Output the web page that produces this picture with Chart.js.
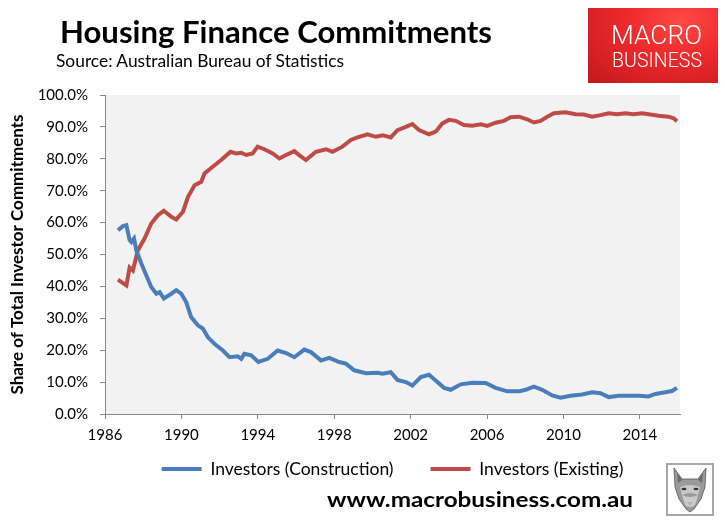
<!DOCTYPE html>
<html><head><meta charset="utf-8">
<script src="https://cdn.jsdelivr.net/npm/chart.js@4.4.1/dist/chart.umd.min.js"></script>
<style>
html,body{margin:0;padding:0;background:#fff;width:725px;height:526px;overflow:hidden;}
#wrap{position:relative;width:725px;height:526px;}
#c{position:absolute;left:0;top:0;}
.t{position:absolute;white-space:nowrap;transform-origin:0 0;margin:0;padding:0;color:#000;}
#logo{position:absolute;left:588px;top:8px;width:130px;height:75px;
 background:radial-gradient(ellipse at 72% 18%, #ff4a45 0%, #ee2a2c 40%, #d21e22 80%, #c2181c 100%);}
#wolf{position:absolute;left:666px;top:463px;width:44px;height:49px;border:2px solid #a8a8a8;background:#fff;}
</style></head><body>
<div id="wrap">
<canvas id="c" width="725" height="526"></canvas>
<div id="logo"></div>
<div class="t" id="title">Housing Finance Commitments</div>
<div class="t" id="sub">Source: Australian Bureau of Statistics</div>
<div class="t" id="macro" style="color:#fff">MACRO</div>
<div class="t" id="business" style="color:#fff">BUSINESS</div>
<div class="t" id="footer">www.macrobusiness.com.au</div>
<div id="wolf"><svg width="44" height="49" viewBox="0 0 44 49">
<path d="M6 3 L14 14 L30 14 L38 3 L37 22 L33 34 L26 44 L22 47 L18 44 L11 34 L7 22 Z" fill="#9a9a9a" stroke="#555" stroke-width="0.8"/>
<path d="M9 8 L14 15 L10 18 Z M35 8 L30 15 L34 18 Z" fill="#6a6a6a"/>
<path d="M12 22 Q22 18 32 22 L30 30 Q22 26 14 30 Z" fill="#c8c8c8"/>
<ellipse cx="16" cy="24" rx="2.5" ry="1.3" fill="#333"/><ellipse cx="28" cy="24" rx="2.5" ry="1.3" fill="#333"/>
<path d="M19 37 L25 37 L22 41 Z" fill="#222"/>
<path d="M14 30 Q22 34 30 30 L27 40 Q22 44 17 40 Z" fill="#d8d8d8" opacity="0.8"/>
</svg></div>
</div>
<script>
// ---- Data ----
const xTickYears = [1986, 1990, 1994, 1998, 2002, 2006, 2010, 2014];
const xTickLabels = ['1986', '1990', '1994', '1998', '2002', '2006', '2010', '2014'];
const yTickValues = [0, 10, 20, 30, 40, 50, 60, 70, 80, 90, 100];
const yTickLabels = ['0.0%', '10.0%', '20.0%', '30.0%', '40.0%', '50.0%', '60.0%', '70.0%', '80.0%', '90.0%', '100.0%'];

const constructionYears = [1986.68, 1986.94, 1987.12, 1987.29, 1987.38, 1987.52, 1987.64, 1987.90, 1988.16, 1988.42,
  1988.69, 1988.86, 1989.08, 1989.47, 1989.73, 1989.99, 1990.25, 1990.51, 1990.86, 1991.12,
  1991.38, 1991.73, 1992.17, 1992.52, 1992.95, 1993.13, 1993.30, 1993.65, 1994.03, 1994.52,
  1995.04, 1995.48, 1995.91, 1996.43, 1996.78, 1997.31, 1997.74, 1998.26, 1998.61, 1999.05,
  1999.66, 2000.26, 2000.53, 2000.96, 2001.31, 2001.75, 2002.09, 2002.53, 2002.96, 2003.31,
  2003.75, 2004.10, 2004.62, 2005.23, 2005.93, 2006.45, 2007.06, 2007.67, 2008.02, 2008.45,
  2008.89, 2009.41, 2009.85, 2010.37, 2010.97, 2011.50, 2011.94, 2012.37, 2012.89, 2013.41,
  2013.94, 2014.46, 2014.81, 2015.33, 2015.68, 2015.94];
const constructionShare = [57.6, 58.9, 59.2, 54.5, 53.9, 55.0, 51.3, 47.2, 43.5, 39.8,
  37.7, 38.2, 36.2, 37.7, 38.8, 37.7, 35.1, 30.4, 27.8, 26.8,
  24.1, 22.0, 19.9, 17.8, 18.1, 17.3, 18.9, 18.4, 16.3, 17.3,
  19.9, 19.1, 17.8, 20.2, 19.4, 16.8, 17.6, 16.3, 15.8, 13.7,
  12.8, 12.9, 12.6, 13.1, 10.7, 10.0, 8.9, 11.6, 12.3, 10.5,
  8.2, 7.6, 9.3, 9.8, 9.7, 8.2, 7.1, 7.1, 7.6, 8.6,
  7.6, 5.8, 5.1, 5.7, 6.1, 6.8, 6.5, 5.3, 5.7, 5.7,
  5.7, 5.5, 6.3, 6.8, 7.2, 8.2];

const existingYears = [1986.68, 1986.90, 1987.12, 1987.29, 1987.46, 1987.72, 1988.07, 1988.42, 1988.77, 1989.08,
  1989.47, 1989.73, 1990.08, 1990.34, 1990.69, 1991.04, 1991.21, 1991.64, 1992.08, 1992.57,
  1992.86, 1993.13, 1993.39, 1993.73, 1993.99, 1994.34, 1994.78, 1995.13, 1995.48, 1995.91,
  1996.20, 1996.52, 1997.04, 1997.57, 1997.91, 1998.43, 1998.87, 1999.22, 1999.74, 2000.18,
  2000.53, 2000.96, 2001.31, 2001.75, 2002.09, 2002.44, 2002.96, 2003.31, 2003.66, 2004.01,
  2004.36, 2004.79, 2005.23, 2005.67, 2006.01, 2006.45, 2006.88, 2007.23, 2007.67, 2008.10,
  2008.45, 2008.80, 2009.15, 2009.50, 2010.11, 2010.63, 2011.06, 2011.50, 2011.94, 2012.37,
  2012.80, 2013.24, 2013.67, 2014.11, 2014.55, 2014.98, 2015.50, 2015.77, 2015.94];
const existingShare = [42.1, 41.2, 40.3, 45.9, 45.0, 51.3, 55.0, 59.7, 62.3, 63.7,
  61.8, 61.0, 63.4, 68.0, 71.7, 72.8, 75.4, 77.5, 79.6, 82.2,
  81.7, 81.9, 81.2, 81.7, 83.8, 83.0, 81.7, 80.1, 81.2, 82.4,
  81.0, 79.6, 82.2, 83.0, 82.2, 83.8, 85.9, 86.7, 87.7, 86.9,
  87.4, 86.7, 89.0, 90.0, 90.9, 89.0, 87.7, 88.5, 91.1, 92.2,
  91.9, 90.6, 90.4, 90.8, 90.3, 91.3, 91.9, 93.0, 93.2, 92.4,
  91.4, 91.9, 93.2, 94.3, 94.6, 94.0, 93.9, 93.2, 93.7, 94.3,
  94.0, 94.3, 94.0, 94.3, 93.9, 93.5, 93.2, 92.7, 91.8];

const seriesNames = ['Investors (Construction)', 'Investors (Existing)'];

// ---- Text placement helpers ----
const mctx = document.createElement('canvas').getContext('2d');
function placeText(id, o) {
  const el = document.getElementById(id);
  const fam = o.family || 'Lato';
  const w8 = o.weight || 400;
  mctx.font = `${w8} 100px ${fam}`;
  const capRatio = mctx.measureText('H').actualBoundingBoxAscent / 100;
  const size = o.capH / capRatio;
  mctx.font = `${w8} ${size}px ${fam}`;
  const m = mctx.measureText(el.textContent);
  const A = m.fontBoundingBoxAscent, D = m.fontBoundingBoxDescent;
  const capA = capRatio * size;
  const baseOff = (size - (A + D)) / 2 + A;
  const sx = (o.right - o.left) / m.width;
  el.style.fontFamily = fam;
  el.style.fontWeight = w8;
  el.style.fontSize = size + 'px';
  el.style.lineHeight = size + 'px';
  el.style.left = o.left + 'px';
  el.style.top = (o.capTop - baseOff + capA) + 'px';
  el.style.transform = `scaleX(${sx})`;
}
placeText('title', {left: 60, right: 492, capTop: 21, capH: 22, weight: 700});
placeText('sub', {left: 56, right: 345, capTop: 55, capH: 13, weight: 400});
placeText('macro', {left: 611, right: 702, capTop: 27, capH: 18, weight: 300, family: 'Roboto'});
placeText('business', {left: 612, right: 702, capTop: 53, capH: 14, weight: 300, family: 'Roboto'});
placeText('footer', {left: 327, right: 633, capTop: 492, capH: 15, weight: 700});

// ---- Chart ----
Chart.defaults.font.family = 'Lato';
Chart.defaults.color = '#000';

const plotBg = {
  id: 'plotBg',
  beforeDraw(chart) {
    const {ctx, chartArea: a} = chart;
    ctx.save();
    ctx.fillStyle = '#f2f2f2';
    ctx.fillRect(a.left, a.top, a.right - a.left, a.bottom - a.top);
    ctx.restore();
  }
};

// moves the bottom legend up so its row sits just under the x-axis labels
const legendShift = {
  id: 'legendShift',
  afterLayout(chart) {
    const lg = chart.legend;
    if (!lg) return;
    const pad = lg.options.labels.padding;
    const fs = lg.options.labels.font.size;
    const wantTop = 469 - pad - fs / 2;
    const h = lg.bottom - lg.top;
    lg.top = wantTop;
    lg.bottom = wantTop + h;
  }
};

const toPoints = (xs, ys) => xs.map((x, i) => ({x: x, y: ys[i]}));

new Chart(document.getElementById('c'), {
  type: 'line',
  data: {
    datasets: [
      {label: seriesNames[0], data: toPoints(constructionYears, constructionShare),
       borderColor: '#4a7ebb', backgroundColor: '#4a7ebb', borderWidth: 4, pointRadius: 0, tension: 0},
      {label: seriesNames[1], data: toPoints(existingYears, existingShare),
       borderColor: '#be4b48', backgroundColor: '#be4b48', borderWidth: 4, pointRadius: 0, tension: 0}
    ]
  },
  options: {
    responsive: false,
    animation: false,
    layout: {padding: {left: 0, top: 95, right: 45, bottom: 17.5}},
    scales: {
      x: {
        type: 'linear', min: 1986, max: 2016.1,
        afterBuildTicks: (s) => { s.ticks = xTickYears.map(v => ({value: v})); },
        afterFit: (s) => { s.height = 30; },
        ticks: {
          callback: (v) => { const i = xTickYears.indexOf(v); return i >= 0 ? xTickLabels[i] : ''; },
          font: {size: 15}, color: '#000', padding: 7, maxRotation: 0, autoSkip: false
        },
        grid: {drawOnChartArea: false, drawTicks: true, tickLength: 5, color: '#868686'},
        border: {color: '#868686', width: 1}
      },
      y: {
        min: 0, max: 100,
        afterBuildTicks: (s) => { s.ticks = yTickValues.map(v => ({value: v})); },
        afterFit: (s) => { s.width = 105; },
        ticks: {
          callback: (v) => { const i = yTickValues.indexOf(v); return i >= 0 ? yTickLabels[i] : ''; },
          font: {size: 15}, color: '#000', padding: 12
        },
        grid: {drawOnChartArea: false, drawTicks: true, tickLength: 5, color: '#868686'},
        border: {color: '#868686', width: 1},
        title: {display: true, text: 'Share of Total Investor Commitments',
          font: {size: 17, weight: 'bold'}, color: '#000', padding: {top: 7, bottom: 0}}
      }
    },
    plugins: {
      legend: {
        position: 'bottom', fullSize: false,
        labels: {usePointStyle: true, pointStyle: 'line', pointStyleWidth: 40,
          padding: 37, font: {size: 17.5}, color: '#000'}
      },
      tooltip: {enabled: false}
    }
  },
  plugins: [plotBg, legendShift]
});
</script>
</body></html>
